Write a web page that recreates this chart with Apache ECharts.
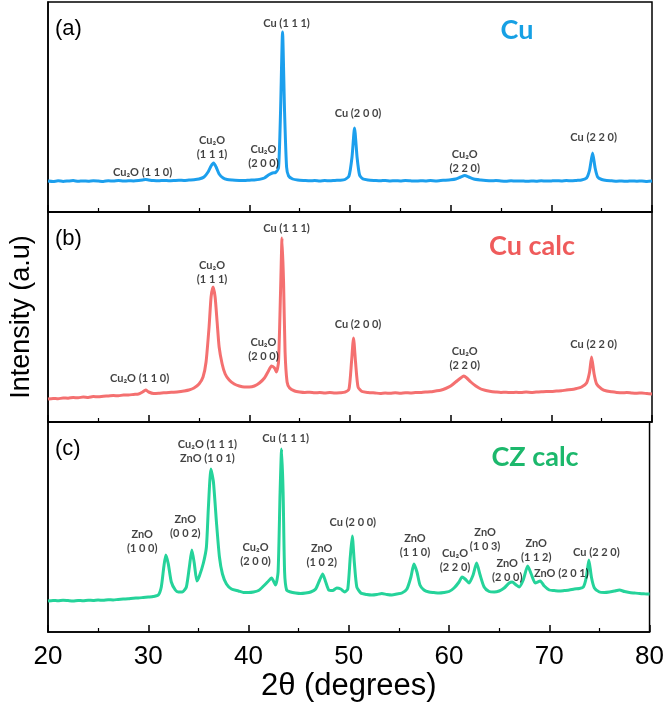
<!DOCTYPE html>
<html>
<head>
<meta charset="utf-8">
<script src="https://cdn.jsdelivr.net/npm/echarts@6/dist/echarts.min.js"></script>
<style>
  html, body { margin: 0; padding: 0; background: #fff; }
  #main { width: 667px; height: 706px; }
</style>
</head>
<body>
<div id="main"></div>
<script>
// XRD patterns, [2theta, intensity (a.u.)]
var cuData = [
  [20, 31], [20.5, 30.5], [21, 31.2], [21.5, 30.6], [22, 31], [22.5, 31.4], [23, 30.7], [23.5, 31.1],
  [24, 30.8], [24.5, 31.3], [25, 31], [25.5, 30.6], [26, 31.2], [26.5, 31], [27, 31.4], [27.5, 30.9],
  [28, 31.3], [28.5, 31.1], [29, 31.5], [29.4, 32], [29.7, 32.5], [30, 32], [30.5, 31.4], [31, 31.2],
  [31.5, 31.6], [32, 31.3], [32.5, 31.5], [33, 31.8], [33.5, 31.6], [34, 32], [34.5, 32.3], [35, 33],
  [35.5, 35], [35.9, 40], [36.2, 46], [36.45, 49], [36.7, 45], [37, 38], [37.4, 34], [37.8, 32.5],
  [38.3, 32], [39, 31.6], [39.5, 31.4], [40, 31.8], [40.5, 32], [41, 32.6], [41.5, 34], [41.9, 37],
  [42.3, 39], [42.6, 39.5], [42.9, 44], [43.1, 100], [43.3, 180], [43.5, 100], [43.7, 45], [43.9, 36],
  [44.3, 33], [44.8, 32], [45.5, 31.5], [46, 31.2], [46.5, 31.5], [47, 31], [47.5, 31.4], [48, 31.2],
  [48.5, 31.6], [49, 31.8], [49.5, 32.5], [49.9, 36], [50.2, 55], [50.45, 84], [50.7, 55], [50.95, 37],
  [51.3, 33], [51.8, 32], [52.5, 31.5], [53, 31.2], [53.5, 31.6], [54, 31], [54.5, 31.3], [55, 31.1],
  [55.5, 31.5], [56, 31.2], [56.5, 30.9], [57, 31.3], [57.5, 31], [58, 31.4], [58.5, 31.1], [59, 31.5],
  [59.5, 31.8], [60, 32.2], [60.5, 33], [61, 35], [61.4, 36.5], [61.8, 35], [62.3, 33], [63, 32],
  [63.5, 31.5], [64, 31.2], [64.5, 31.4], [65, 31], [65.5, 30.8], [66, 31.2], [66.5, 30.9], [67, 31.1],
  [67.5, 30.7], [68, 31], [68.5, 30.8], [69, 31.2], [69.5, 30.9], [70, 31.1], [70.5, 31.3], [71, 31],
  [71.5, 31.4], [72, 31.2], [72.5, 31.6], [73, 32], [73.5, 34], [73.8, 42], [74.1, 59], [74.35, 44],
  [74.6, 35], [75, 32.5], [75.5, 31.5], [76, 31.2], [76.5, 30.8], [77, 31], [77.5, 30.7], [78, 31.1],
  [78.5, 30.8], [79, 31], [79.5, 30.6], [80, 31]
]

var cuCalcData = [
  [20, 23], [20.5, 23.6], [21, 23.2], [21.5, 24], [22, 23.8], [22.5, 24.5], [23, 24.2], [23.5, 25],
  [24, 24.6], [24.5, 25.4], [25, 25.2], [25.5, 25.8], [26, 26], [26.5, 26.4], [27, 26.2], [27.5, 27],
  [28, 27], [28.5, 27.6], [29, 28], [29.4, 30], [29.7, 32], [30, 30], [30.5, 28.6], [31, 28.8],
  [31.5, 29.2], [32, 29.5], [32.5, 29.8], [33, 30.2], [33.5, 31], [34, 32], [34.5, 34], [35, 38],
  [35.4, 45], [35.7, 60], [36, 95], [36.2, 125], [36.4, 135], [36.6, 125], [36.8, 100], [37, 75],
  [37.3, 58], [37.6, 48], [38, 42], [38.5, 38], [39, 36], [39.5, 35], [40, 35], [40.5, 36],
  [41, 39], [41.5, 44], [41.9, 51], [42.2, 56], [42.5, 54], [42.7, 50], [42.9, 60], [43.1, 130],
  [43.25, 184], [43.4, 140], [43.55, 70], [43.75, 40], [44, 34], [44.5, 31], [45, 30], [45.5, 29.5],
  [46, 29.8], [46.5, 29.2], [47, 29.5], [47.5, 29], [48, 29.4], [48.5, 29], [49, 29.3], [49.5, 29.8],
  [49.9, 33], [50.15, 60], [50.35, 84], [50.55, 60], [50.8, 35], [51.2, 30.5], [51.8, 29.5], [52.5, 29],
  [53, 28.6], [53.5, 29], [54, 28.7], [54.5, 29.2], [55, 28.8], [55.5, 29.3], [56, 29], [56.5, 29.4],
  [57, 29.6], [57.5, 30], [58, 30.2], [58.5, 31], [59, 31.8], [59.5, 33.5], [60, 36], [60.5, 40],
  [61, 44], [61.3, 46], [61.6, 44], [62, 40], [62.5, 36], [63, 33], [63.5, 31.5], [64, 30.5],
  [64.5, 30], [65, 29.6], [65.5, 29.8], [66, 29.4], [66.5, 29.7], [67, 29.5], [67.5, 29.9], [68, 29.6],
  [68.5, 30], [69, 30.2], [69.5, 30.6], [70, 30.5], [70.5, 31], [71, 31.2], [71.5, 32], [72, 32.4],
  [72.5, 33.5], [73, 35], [73.5, 39], [73.8, 50], [74, 65], [74.25, 48], [74.5, 38], [75, 33],
  [75.5, 31], [76, 30.2], [76.5, 29.6], [77, 29.2], [77.5, 29.5], [78, 29], [78.5, 28.8], [79, 29],
  [79.5, 28.4], [80, 28]
]

var czCalcData = [
  [20, 31], [20.5, 31.6], [21, 31.2], [21.5, 31.8], [22, 31.4], [22.5, 31], [23, 31.6], [23.5, 31.2],
  [24, 31.8], [24.5, 31.5], [25, 32], [25.5, 31.7], [26, 32.3], [26.5, 32], [27, 32.6], [27.5, 33],
  [28, 33.2], [28.5, 33.8], [29, 34], [29.5, 34.5], [30, 35], [30.5, 35.5], [31, 37], [31.3, 45],
  [31.55, 65], [31.75, 77], [32, 68], [32.3, 50], [32.7, 42], [33, 40], [33.4, 40], [33.8, 45],
  [34.1, 65], [34.35, 82], [34.6, 68], [34.85, 51], [35.1, 56], [35.5, 69], [35.8, 85], [36, 125],
  [36.25, 163], [36.5, 150], [36.8, 110], [37.1, 75], [37.4, 58], [37.8, 48], [38.3, 43], [39, 41],
  [39.5, 39.5], [40, 39.5], [40.5, 40], [41, 41.5], [41.5, 46], [41.9, 50], [42.3, 54], [42.7, 47],
  [42.95, 60], [43.15, 140], [43.3, 183], [43.45, 140], [43.6, 60], [43.8, 42], [44.2, 40], [44.7, 39],
  [45.2, 38.5], [45.7, 39], [46.2, 40], [46.7, 43], [47.1, 52], [47.4, 58], [47.7, 50], [48, 42],
  [48.4, 41.5], [48.8, 44], [49.2, 43], [49.6, 40], [49.9, 43], [50.15, 75], [50.35, 96], [50.55, 70],
  [50.8, 45], [51.2, 39], [51.8, 37.5], [52.3, 37], [52.8, 37.5], [53.3, 38.5], [53.8, 37.5], [54.3, 37],
  [54.8, 38], [55.3, 39], [55.8, 43], [56.2, 55], [56.5, 68], [56.8, 60], [57.1, 47], [57.5, 42],
  [58, 40], [58.5, 39.5], [59, 39], [59.5, 39.5], [60, 40.5], [60.5, 44], [61, 50], [61.3, 55],
  [61.6, 53], [62, 49], [62.4, 57], [62.75, 69], [63.1, 57], [63.5, 45], [64, 40.5], [64.5, 40],
  [65, 41], [65.5, 44], [66, 49], [66.3, 50], [66.7, 47], [67, 45], [67.4, 52], [67.85, 66],
  [68.2, 58], [68.6, 49], [69.1, 51], [69.5, 46], [70, 42], [70.5, 41.5], [71, 41], [71.5, 41.5],
  [72, 42], [72.5, 43], [73, 43.5], [73.4, 45], [73.7, 55], [73.95, 72], [74.2, 55], [74.5, 44],
  [75, 40], [75.5, 39.5], [76, 40], [76.5, 41], [77, 42], [77.5, 40.5], [78, 39.5], [78.5, 39],
  [79, 38.5], [79.5, 38.2], [80, 38]
]

// peak labels: [2theta, intensity, text]
var cuPeaks = [
  [29.4, 40, 'Cu₂O (1 1 0)'],
  [36.3, 65, 'Cu₂O\n(1 1 1)'],
  [41.4, 56, 'Cu₂O\n(2 0 0)'],
  [43.7, 189, 'Cu (1 1 1)'],
  [50.8, 99, 'Cu (2 0 0)'],
  [61.4, 51, 'Cu₂O\n(2 2 0)'],
  [74.2, 75, 'Cu (2 2 0)']
]
var cuCalcPeaks = [
  [29.1, 44, 'Cu₂O (1 1 0)'],
  [36.3, 149.5, 'Cu₂O\n(1 1 1)'],
  [41.4, 73, 'Cu₂O\n(2 0 0)'],
  [43.7, 194, 'Cu (1 1 1)'],
  [50.8, 98, 'Cu (2 0 0)'],
  [61.4, 64, 'Cu₂O\n(2 2 0)'],
  [74.2, 78, 'Cu (2 2 0)']
]
var czCalcPeaks = [
  [29.4, 91, 'ZnO\n(1 0 0)'],
  [33.7, 106, 'ZnO\n(0 0 2)'],
  [35.9, 180.5, 'Cu₂O (1 1 1)\nZnO (1 0 1)'],
  [40.7, 77.5, 'Cu₂O\n(2 0 0)'],
  [43.7, 194, 'Cu (1 1 1)'],
  [47.3, 77, 'ZnO\n(1 0 2)'],
  [50.4, 110, 'Cu (2 0 0)'],
  [56.6, 87, 'ZnO\n(1 1 0)'],
  [60.6, 72, 'Cu₂O\n(2 2 0)'],
  [63.6, 93, 'ZnO\n(1 0 3)'],
  [65.8, 62, 'ZnO\n(2 0 0)'],
  [68.7, 82, 'ZnO\n(1 1 2)'],
  [71.2, 59, 'ZnO (2 0 1)'],
  [74.7, 80, 'Cu (2 2 0)']
]

var panelNames = ['Cu', 'Cu calc', 'CZ calc']
var panelTags = ['(a)', '(b)', '(c)']
var lineColors = ['#1c9fed', '#f47070', '#25d39a']
var titleColors = ['#16a0e4', '#ef5b5b', '#1cb86c']

var myChart = echarts.init(document.getElementById('main'))
var option

var panelTops = [2, 212, 422]
var panelH = 210
var allData = [cuData, cuCalcData, czCalcData]
var allPeaks = [cuPeaks, cuCalcPeaks, czCalcPeaks]

var grids = []
var xAxes = []
var yAxes = []
var series = []
var graphics = []

panelTops.forEach(function(top, i) {
  grids.push({
    left: 48,
    right: 15,
    top: top,
    height: panelH,
    show: true,
    borderColor: '#000',
    borderWidth: 1.5
  })
  xAxes.push({
    gridIndex: i,
    type: 'value',
    min: 20,
    max: 80,
    interval: 10,
    axisLine: { lineStyle: { color: '#000', width: 1.5 } },
    axisTick: { inside: true, length: 7, lineStyle: { color: '#000', width: 1.5 } },
    minorTick: { show: true, splitNumber: 2, length: 4, lineStyle: { color: '#000', width: 1.2 } },
    splitLine: { show: false },
    axisLabel: {
      show: i === 2,
      color: '#000',
      fontSize: 26,
      fontFamily: 'Liberation Sans',
      margin: 12
    },
    name: i === 2 ? '2θ (degrees)' : '',
    nameLocation: 'middle',
    nameGap: 39,
    nameTextStyle: { color: '#000', fontSize: 31, fontFamily: 'Liberation Sans' }
  })
  yAxes.push({
    gridIndex: i,
    type: 'value',
    min: 0,
    max: panelH,
    axisLine: { show: true, lineStyle: { color: '#000', width: 1.5 } },
    axisTick: { show: false },
    axisLabel: { show: false },
    splitLine: { show: false },
    name: i === 1 ? 'Intensity (a.u)' : '',
    nameLocation: 'middle',
    nameGap: 13,
    nameTextStyle: { color: '#000', fontSize: 27, fontFamily: 'Liberation Sans' }
  })
  series.push({
    type: 'line',
    xAxisIndex: i,
    yAxisIndex: i,
    data: allData[i],
    showSymbol: false,
    smooth: 0.2,
    lineStyle: { color: lineColors[i], width: 3 },
    silent: true,
    z: 3
  })
  series.push({
    type: 'scatter',
    xAxisIndex: i,
    yAxisIndex: i,
    symbolSize: 0,
    silent: true,
    data: allPeaks[i].map(function(p) {
      return { value: [p[0], p[1]], label: { formatter: p[2] } }
    }),
    label: {
      show: true,
      position: 'inside',
      color: '#111',
      fontSize: 11,
      fontWeight: 'bold',
      fontFamily: 'Lato',
      lineHeight: 14,
      align: 'center'
    },
    z: 4
  })
  graphics.push({
    type: 'text',
    left: 55,
    top: top + 16,
    style: { text: panelTags[i], fill: '#000', font: '22px "Liberation Sans"' }
  })
  graphics.push({
    type: 'text',
    x: [517, 532, 535][i],
    y: [30, 246, 457][i],
    style: {
      text: panelNames[i],
      fill: titleColors[i],
      font: 'bold 27px Lato',
      align: 'center',
      verticalAlign: 'middle'
    }
  })
})

option = {
  backgroundColor: '#fff',
  animation: false,
  grid: grids,
  xAxis: xAxes,
  yAxis: yAxes,
  series: series,
  graphic: graphics
}

option && myChart.setOption(option)
</script>
</body>
</html>
